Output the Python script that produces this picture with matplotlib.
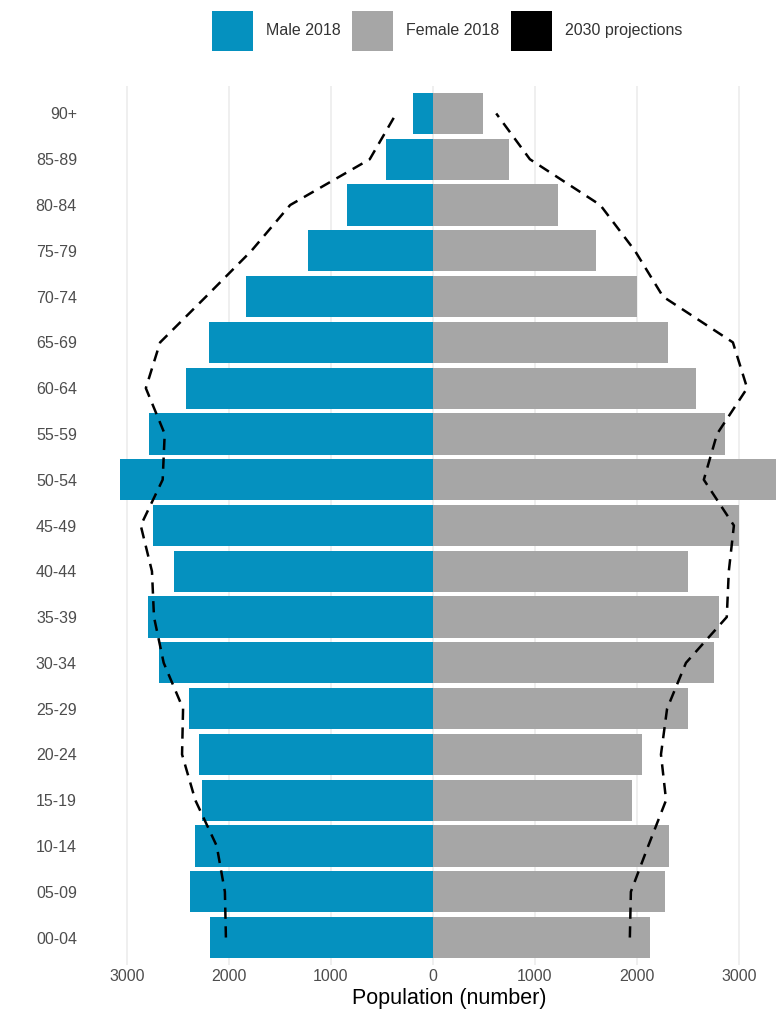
import numpy as np
import matplotlib
matplotlib.use("Agg")
import matplotlib.pyplot as plt
from matplotlib.patches import Patch

plt.rcParams['font.family'] = ['Liberation Sans', 'DejaVu Sans']

# age groups, bottom to top
ages = ["00-04", "05-09", "10-14", "15-19", "20-24", "25-29", "30-34", "35-39",
        "40-44", "45-49", "50-54", "55-59", "60-64", "65-69", "70-74", "75-79",
        "80-84", "85-89", "90+"]

male_2018 = [2185, 2380, 2335, 2265, 2295, 2390, 2690, 2795, 2540, 2745,
             3070, 2785, 2420, 2195, 1830, 1225, 845, 460, 195]
female_2018 = [2130, 2275, 2315, 1950, 2050, 2500, 2755, 2805, 2500, 3000,
               3420, 2865, 2580, 2305, 2000, 1600, 1225, 745, 490]

male_2030 = [2030, 2040, 2120, 2330, 2460, 2450, 2640, 2735, 2755, 2865,
             2650, 2630, 2815, 2675, 2225, 1780, 1400, 620, 360]
female_2030 = [1930, 1940, 2110, 2285, 2235, 2295, 2480, 2880, 2900, 2950,
               2655, 2785, 3080, 2940, 2255, 1980, 1640, 950, 620]

tick_vals = [-3000, -2000, -1000, 0, 1000, 2000, 3000]

# ==========================================
# Figure
# ==========================================
W, H = 776, 1018
fig = plt.figure(figsize=(W / 100, H / 100), dpi=100)
ax = fig.add_axes([88 / W, 1 - 965 / H, (810 - 88) / W, (965 - 86) / H])

y = np.arange(len(ages))
male_col = "#0591BF"
female_col = "#A6A6A6"

ax.barh(y, -np.array(male_2018), height=0.9, color=male_col, zorder=2)
ax.barh(y, female_2018, height=0.9, color=female_col, zorder=2)

# 2030 projections as dashed outlines
ax.plot(-np.array(male_2030), y, color="black", lw=1.8, ls=(0, (4.5, 3.0)), zorder=3)
ax.plot(female_2030, y, color="black", lw=1.8, ls=(0, (4.5, 3.0)), zorder=3)

ax.set_xlim(-3382, 3696)
ax.set_ylim(-0.6, len(ages) - 0.4)

ax.set_xticks(tick_vals)
ax.set_xticklabels([str(abs(v)) for v in tick_vals])
ax.set_yticks(y)
ax.set_yticklabels(ages)

ax.grid(axis="x", color="#EBEBEB", lw=1.1, zorder=0)
ax.grid(axis="y", visible=False)
for s in ax.spines.values():
    s.set_visible(False)
ax.tick_params(length=0, labelsize=11.5, labelcolor="#4D4D4D")
ax.tick_params(axis="x", pad=3)
ax.tick_params(axis="y", pad=8)

ax.set_xlabel("Population (number)", fontsize=15.5, color="black", labelpad=3)

handles = [Patch(facecolor=male_col, edgecolor="none", label="Male 2018"),
           Patch(facecolor=female_col, edgecolor="none", label="Female 2018"),
           Patch(facecolor="black", edgecolor="none", label="2030 projections")]
fig.legend(handles=handles, loc="center", bbox_to_anchor=(447 / W, 1 - 31 / H),
           ncol=3, frameon=False, fontsize=11.5, handlelength=2.55,
           handleheight=3.56, handletextpad=0.8, columnspacing=0.75,
           borderpad=0, borderaxespad=0, labelcolor="#333333")

fig.savefig("out.png", dpi=100)
